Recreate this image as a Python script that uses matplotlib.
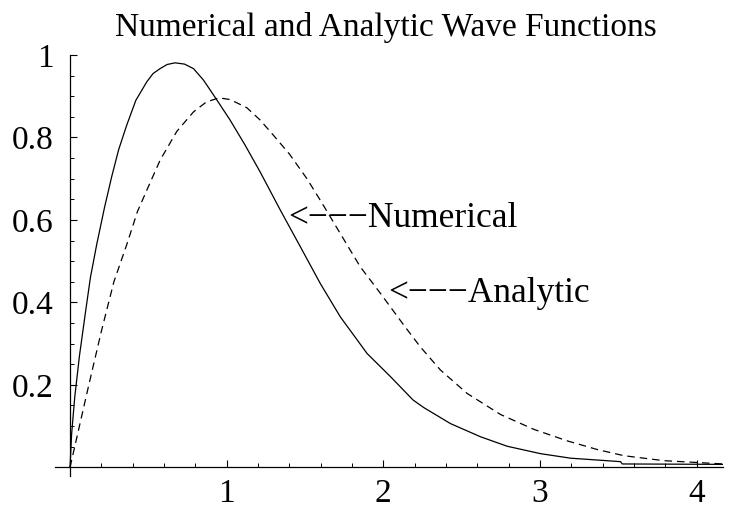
import matplotlib
matplotlib.use("Agg")
import matplotlib.pyplot as plt
from matplotlib.ticker import FixedLocator, MultipleLocator

plt.rcParams["font.family"] = ["Liberation Serif", "DejaVu Serif"]

# values
numerical_x = [0, 0.01, 0.03, 0.06, 0.1, 0.13, 0.17, 0.22, 0.266, 0.31,
               0.362, 0.42, 0.49, 0.53, 0.575, 0.62, 0.67, 0.73, 0.788,
               0.852, 0.93, 1.022, 1.118, 1.214, 1.342, 1.47, 1.597, 1.725,
               1.896, 2.045, 2.19, 2.257, 2.428, 2.62, 2.79, 3.003, 3.195,
               3.514, 3.525, 4.17]
numerical_y = [0, 0.08, 0.17, 0.27, 0.38, 0.46, 0.54, 0.63, 0.705, 0.77,
               0.83, 0.89, 0.935, 0.955, 0.967, 0.977, 0.981, 0.978, 0.967,
               0.939, 0.895, 0.842, 0.781, 0.716, 0.624, 0.535, 0.446, 0.365,
               0.276, 0.22, 0.163, 0.145, 0.106, 0.074, 0.051, 0.033, 0.022,
               0.0136, 0.008, 0.007]

analytic_x = [0, 0.06, 0.12, 0.2, 0.28, 0.362, 0.43, 0.49, 0.575, 0.682,
              0.788, 0.87, 0.95, 1.022, 1.129, 1.214, 1.299, 1.40, 1.512,
              1.597, 1.725, 1.853, 1.981, 2.13, 2.236, 2.364, 2.535, 2.748,
              2.96, 3.174, 3.365, 3.536, 3.79, 4.17]
analytic_y = [0, 0.1, 0.2, 0.33, 0.45, 0.54, 0.62, 0.672, 0.745, 0.815,
              0.862, 0.886, 0.896, 0.892, 0.872, 0.842, 0.805, 0.76, 0.70,
              0.648, 0.567, 0.486, 0.422, 0.345, 0.292, 0.236, 0.179, 0.128,
              0.092, 0.064, 0.043, 0.028, 0.016, 0.008]

x_major = [1, 2, 3, 4]
y_major = [0.2, 0.4, 0.6, 0.8, 1.0]
y_labels = ["0.2", "0.4", "0.6", "0.8", "1"]

W, H = 735, 508
fig = plt.figure(figsize=(W / 100, H / 100), dpi=100)
ax = fig.add_axes([55 / W, 1 - 475.5 / H, (723.3 - 55) / W, (475.5 - 55) / H])

ax.plot(numerical_x, numerical_y, color="black", lw=0.9)
ax.plot(analytic_x, analytic_y, color="black", lw=0.9, dashes=(6, 4))

ax.set_xlim(-0.096, 4.17)
ax.set_ylim(-0.02, 1.0)

for s in ["top", "right"]:
    ax.spines[s].set_visible(False)
ax.spines["left"].set_position(("data", 0))
ax.spines["bottom"].set_position(("data", 0))
ax.spines["left"].set_linewidth(0.9)
ax.spines["bottom"].set_linewidth(0.9)

ax.xaxis.set_major_locator(FixedLocator(x_major))
ax.xaxis.set_minor_locator(MultipleLocator(0.2))
ax.set_xticklabels([str(v) for v in x_major])
ax.yaxis.set_major_locator(FixedLocator(y_major))
ax.yaxis.set_minor_locator(MultipleLocator(0.05))
ax.set_yticklabels(y_labels)

ax.tick_params(which="major", direction="in", length=5, width=0.8,
               labelsize=24, pad=8)
ax.tick_params(which="minor", direction="in", length=3, width=0.7)
ax.tick_params(axis="y", which="major", pad=12)

ax.text(1.395, 0.583, "<\u2212\u2212\u2212Numerical", fontsize=25.5,
        ha="left", va="baseline")
ax.text(2.03, 0.401, "<\u2212\u2212\u2212Analytic", fontsize=25.5,
        ha="left", va="baseline")

fig.text(386 / W, 1 - 36 / H, "Numerical and Analytic Wave Functions",
         fontsize=24, ha="center", va="baseline")

fig.savefig("out.png", dpi=100)
